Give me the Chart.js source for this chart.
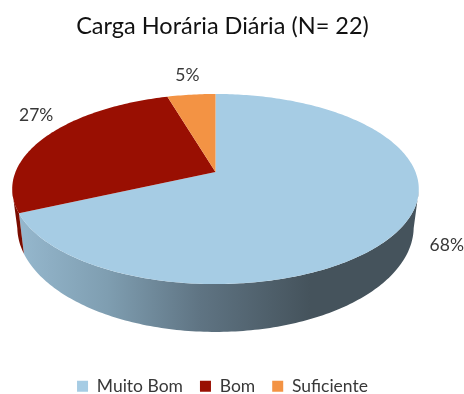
<!DOCTYPE html>
<html>
<head>
<meta charset="utf-8">
<style>
    body { margin: 0; background: #fff; }
    #chart { display: block; }
</style>
<script src="https://cdn.jsdelivr.net/npm/chart.js@4"></script>
</head>
<body>
<canvas id="chart" width="464" height="394"></canvas>
<script>
const categories = ['Muito Bom', 'Bom', 'Suficiente'];
const counts = [15, 6, 1];
const titleText = 'Carga Horária Diária (N= 22)';

const topColors = ['#a6cce4', '#990f02', '#f39344'];
const wallShades = ['#95b7cd', '#7a0c00', '#c4752f'];
const labelOffsets = [[45, 18], [-10, -21], [-4, -19]];

// the top of the pie is a tilted disc, so the centre sits above the middle of the ellipse
const disc = { cx: 215.5, cy: 172, a: 200, b: 92, k: 0.179 };
const wallFrom = -Math.PI / 2 + 1.765; // right silhouette
const wallTo = -Math.PI / 2 + 4.52;    // left silhouette

function topPoint(angle) {
    const u = Math.cos(angle);
    const v = -Math.sin(angle);
    const d = 1 + disc.k * v;
    return [disc.cx + disc.a * u / d, disc.cy - disc.b * v / d];
}

function bottomPoint(angle) {
    const p = topPoint(angle);
    return [disc.cx + (p[0] - disc.cx) * 0.975, 208 + (p[1] - disc.cy) * 1.106];
}

function arcPoints(fn, start, end) {
    const pts = [];
    const steps = Math.max(2, Math.ceil((end - start) * 60));
    for (let i = 0; i <= steps; i++) {
        pts.push(fn(start + (end - start) * i / steps));
    }
    return pts;
}

function tracePoints(ctx, pts) {
    pts.forEach(p => ctx.lineTo(p[0], p[1]));
}

function wallGradient(ctx) {
    const g = ctx.createLinearGradient(20, 0, 310, 0);
    g.addColorStop(0, '#95b7cd');
    g.addColorStop(0.3, '#7f9eb1');
    g.addColorStop(0.62, '#5f7483');
    g.addColorStop(1, '#45535c');
    return g;
}

const tiltedPie = {
    id: 'tiltedPie',
    beforeDatasetsDraw(chart) {
        const ctx = chart.ctx;
        const arcs = chart.getDatasetMeta(0).data;

        arcs.forEach((arc, i) => {
            const start = Math.max(arc.startAngle, wallFrom);
            const end = Math.min(arc.endAngle, wallTo);
            if (end <= start) return;
            ctx.beginPath();
            tracePoints(ctx, arcPoints(topPoint, start, end));
            tracePoints(ctx, arcPoints(bottomPoint, start, end).reverse());
            ctx.closePath();
            ctx.fillStyle = i === 0 ? wallGradient(ctx) : wallShades[i];
            ctx.fill();
        });

        arcs.forEach((arc, i) => {
            ctx.beginPath();
            ctx.moveTo(disc.cx, disc.cy);
            tracePoints(ctx, arcPoints(topPoint, arc.startAngle, arc.endAngle));
            ctx.closePath();
            ctx.fillStyle = topColors[i];
            ctx.fill();
        });

        const total = counts.reduce((a, b) => a + b, 0);
        ctx.font = '17.5px Lato, "Open Sans", sans-serif';
        ctx.fillStyle = '#383838';
        ctx.textAlign = 'center';
        ctx.textBaseline = 'middle';
        arcs.forEach((arc, i) => {
            const p = topPoint((arc.startAngle + arc.endAngle) / 2);
            const text = (counts[i] / total * 100).toFixed(0) + '%';
            ctx.fillText(text, p[0] + labelOffsets[i][0], p[1] + labelOffsets[i][1]);
        });
        return false;
    }
};

new Chart(document.getElementById('chart'), {
    type: 'pie',
    data: {
        labels: categories,
        datasets: [{
            data: counts,
            backgroundColor: topColors,
            borderWidth: 0
        }]
    },
    plugins: [tiltedPie],
    options: {
        responsive: false,
        animation: false,
        layout: { padding: { bottom: -11, right: 19 } },
        plugins: {
            tooltip: { enabled: false },
            title: {
                display: true,
                text: titleText,
                color: '#111',
                font: { family: 'Lato, "Open Sans", sans-serif', size: 23.5, weight: 'normal' },
                padding: { top: 12, bottom: 10 }
            },
            legend: {
                position: 'bottom',
                labels: {
                    boxWidth: 11,
                    boxHeight: 11,
                    padding: 17,
                    color: '#383838',
                    font: { family: 'Lato, "Open Sans", sans-serif', size: 17.5 }
                }
            }
        }
    }
});
</script>
</body>
</html>
